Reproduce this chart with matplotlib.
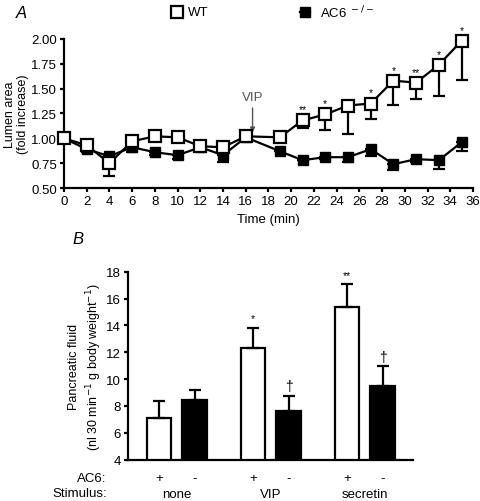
import matplotlib.pyplot as plt
import numpy as np

plt.rcParams['font.family'] = ['Liberation Sans', 'DejaVu Sans']
plt.rcParams['font.size'] = 9.5

# panel A: lumen area over time
wt_t = [0, 2, 4, 6, 8, 10, 12, 14, 16, 19, 21, 23, 25, 27, 29, 31, 33, 35]
wt_y = [1.00, 0.93, 0.75, 0.97, 1.02, 1.01, 0.92, 0.91, 1.02,
        1.01, 1.18, 1.24, 1.33, 1.35, 1.58, 1.56, 1.74, 1.98]
wt_err = [0.0, 0.02, 0.13, 0.03, 0.04, 0.03, 0.04, 0.02, 0.02,
          0.0, 0.08, 0.16, 0.29, 0.16, 0.24, 0.16, 0.31, 0.39]
wt_stars = ['', '', '', '', '', '', '', '', '', '', '**', '*', '', '*', '*', '**', '*', '*']

ko_t = [0, 2, 4, 6, 8, 10, 12, 14, 16, 19, 21, 23, 25, 27, 29, 31, 33, 35]
ko_y = [1.00, 0.89, 0.82, 0.91, 0.86, 0.83, 0.91, 0.83, 1.01,
        0.87, 0.78, 0.81, 0.81, 0.89, 0.74, 0.79, 0.78, 0.96]
ko_err = [0.0, 0.03, 0.04, 0.05, 0.03, 0.04, 0.03, 0.07, 0.03,
          0.0, 0.0, 0.02, 0.05, 0.07, 0.06, 0.03, 0.09, 0.09]

# panel B: pancreatic fluid
groups = ['none', 'VIP', 'secretin']
wt_fluid = [7.1, 12.35, 15.35]
wt_fluid_err = [1.3, 1.45, 1.7]
ko_fluid = [8.45, 7.6, 9.5]
ko_fluid_err = [0.75, 1.15, 1.45]
wt_sig = ['', '*', '**']
ko_sig = ['', '\u2020', '\u2020']

fig = plt.figure(figsize=(4.8, 5.02), dpi=100)

# ---- panel A ----
ax1 = fig.add_axes([0.1333, 0.6235, 0.852, 0.297])
zeros = np.zeros(len(wt_t))
ax1.errorbar(ko_t, ko_y, yerr=[ko_err, zeros], fmt='s-', color='black', mfc='black',
             mec='black', ms=7.5, lw=1.6, elinewidth=1.6, capsize=4, capthick=1.6,
             zorder=3)
ax1.errorbar(wt_t, wt_y, yerr=[wt_err, zeros], fmt='s-', color='black', mfc='white',
             mec='black', mew=1.6, ms=8, lw=1.6, elinewidth=1.6, capsize=4,
             capthick=1.6, zorder=4)
for t, y, s in zip(wt_t, wt_y, wt_stars):
    if s:
        ax1.text(t, y + 0.06, s, ha='center', va='bottom', fontsize=7.5)

ax1.annotate('VIP', xy=(16.6, 1.03), xytext=(16.6, 1.36), ha='center', va='bottom',
             fontsize=9.5, color='#555555',
             arrowprops=dict(arrowstyle='-|>', color='#555555', lw=1, mutation_scale=7))

ax1.set_xlim(0, 36)
ax1.set_ylim(0.5, 2.0)
ax1.set_xticks(np.arange(0, 37, 2))
ax1.set_yticks([0.5, 0.75, 1.0, 1.25, 1.5, 1.75, 2.0])
ax1.set_yticklabels(['0.50', '0.75', '1.00', '1.25', '1.50', '1.75', '2.00'])
ax1.spines['top'].set_visible(False)
ax1.spines['right'].set_visible(False)
ax1.spines['left'].set_linewidth(1.6)
ax1.spines['bottom'].set_linewidth(1.6)
ax1.tick_params(width=1.6, length=3, pad=2)
ax1.set_xlabel('Time (min)', labelpad=4)
ax1.set_ylabel('Lumen area\n(fold increase)', fontsize=9, linespacing=1.1)
ax1.yaxis.set_label_coords(-0.085, 0.5)
for c in ax1.get_children():
    c.set_clip_on(False)

# legend at top
fig.text(0.032, 0.973, 'A', fontsize=12, style='italic', va='center')
fig.lines.append(plt.Line2D([0.368], [0.974], marker='s', ms=8, mfc='white', mec='black',
                            mew=1.6, transform=fig.transFigure))
fig.text(0.392, 0.974, 'WT', fontsize=9.5, va='center')
fig.lines.append(plt.Line2D([0.625, 0.645], [0.974, 0.974], color='black', lw=1.6,
                            transform=fig.transFigure))
fig.lines.append(plt.Line2D([0.635], [0.974], marker='s', ms=7, mfc='black', mec='black',
                            transform=fig.transFigure))
fig.text(0.667, 0.974, 'AC6$^{\\ -/-}$', fontsize=9.5, va='center')

# ---- panel B ----
ax2 = fig.add_axes([0.267, 0.0823, 0.5925, 0.3745])
x = np.arange(len(groups))
off = 0.189
w = 0.26
ax2.bar(x - off, wt_fluid, w, color='white', edgecolor='black', lw=1.6,
        yerr=[np.zeros(3), wt_fluid_err], capsize=4.5,
        error_kw=dict(elinewidth=1.6, capthick=1.6))
ax2.bar(x + off, ko_fluid, w, color='black', edgecolor='black', lw=1.6,
        yerr=[np.zeros(3), ko_fluid_err], capsize=4.5,
        error_kw=dict(elinewidth=1.6, capthick=1.6))
for i in range(len(groups)):
    if wt_sig[i]:
        ax2.text(x[i] - off, wt_fluid[i] + wt_fluid_err[i] + 0.35, wt_sig[i],
                 ha='center', va='bottom', fontsize=7.5)
    if ko_sig[i]:
        ax2.text(x[i] + off, ko_fluid[i] + ko_fluid_err[i] + 0.2, ko_sig[i],
                 ha='center', va='bottom', fontsize=10)

ax2.set_xlim(-0.517, 2.507)
ax2.set_ylim(4, 18)
ax2.set_yticks(np.arange(4, 19, 2))
ax2.set_xticks([])
ax2.spines['top'].set_visible(False)
ax2.spines['right'].set_visible(False)
ax2.spines['left'].set_linewidth(1.6)
ax2.spines['bottom'].set_linewidth(1.6)
ax2.tick_params(width=1.6, length=3, pad=2)
ax2.set_ylabel('Pancreatic fluid\n(nl 30 min$^{-1}$ g body weight$^{-1}$)', fontsize=9,
               linespacing=1.3)
ax2.yaxis.set_label_coords(-0.085, 0.5)

trans = ax2.get_xaxis_transform()
for i, g in enumerate(groups):
    ax2.text(x[i] - off, -0.098, '+', transform=trans, ha='center', va='center')
    ax2.text(x[i] + off, -0.098, '-', transform=trans, ha='center', va='center')
    ax2.text(x[i], -0.183, g, transform=trans, ha='center', va='center')
fig.text(0.222, 0.046, 'AC6:', ha='right', va='center')
fig.text(0.222, 0.015, 'Stimulus:', ha='right', va='center')
fig.text(0.152, 0.522, 'B', fontsize=12, style='italic', va='center')

fig.savefig('out.png', dpi=100)
